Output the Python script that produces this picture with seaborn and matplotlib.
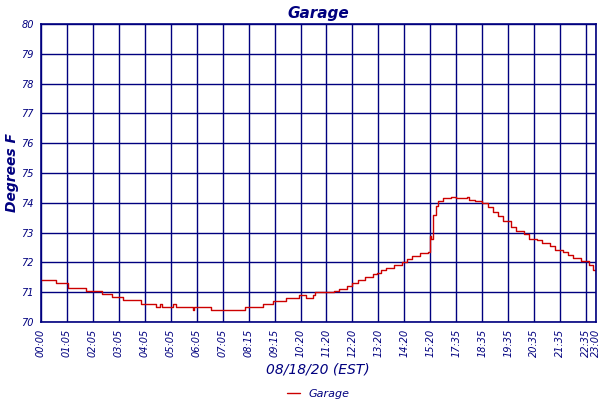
import matplotlib
matplotlib.use("Agg")
import matplotlib.pyplot as plt
import seaborn as sns
import pandas as pd

tick_labels = ["00:00","01:05","02:05","03:05","04:05","05:05","06:05","07:05","08:15","09:15",
               "10:20","11:20","12:20","13:20","14:20","15:20","17:35","18:35","19:35","20:35",
               "21:35","22:35","23:00"]
tick_pos = list(range(22)) + [21.37]
# x in label-interval units, temperatures in degrees F
xs = [0,0.55,0.6,1.0,1.05,1.7,1.75,2.3,2.35,2.7,2.75,3.1,3.15,3.8,3.85,4.4,4.45,4.6,4.65,5.0,5.1,5.2,
      5.8,5.85,5.9,6.5,6.55,6.6,7.8,7.85,8.5,8.55,8.9,8.95,9.4,9.45,9.9,9.95,10.2,10.5,10.55,11.0,
      11.3,11.5,11.8,12.0,12.2,12.5,12.8,12.95,13.1,13.3,13.6,13.9,14.1,14.3,14.6,14.9,14.98,15.02,
      15.1,15.2,15.3,15.5,15.8,16.0,16.4,16.5,16.7,17.0,17.2,17.4,17.6,17.8,18.1,18.3,18.6,18.8,
      19.1,19.3,19.6,19.8,20.1,20.3,20.5,20.8,21.1,21.25,21.37]
ys = [71.4,71.4,71.3,71.3,71.15,71.15,71.05,71.05,70.95,70.95,70.85,70.85,70.75,70.75,70.6,70.6,70.5,70.6,70.5,70.5,70.6,70.5,
      70.5,70.4,70.5,70.5,70.4,70.4,70.4,70.5,70.5,70.6,70.6,70.7,70.7,70.8,70.8,70.9,70.8,70.9,71.0,71.0,
      71.05,71.1,71.2,71.3,71.4,71.5,71.6,71.65,71.75,71.8,71.9,72.0,72.1,72.2,72.3,72.35,72.9,72.8,
      73.6,73.9,74.05,74.15,74.2,74.15,74.2,74.1,74.05,74.0,73.85,73.7,73.55,73.4,73.2,73.05,72.95,72.8,
      72.75,72.65,72.55,72.4,72.35,72.25,72.15,72.05,71.9,71.75,71.6]
ys_fix = ys[:len(xs)]

navy = "#00007f"
sns.set_style("white")
plt.rcParams["font.family"] = ["DejaVu Sans"]
fig = plt.figure(figsize=(6, 4), dpi=100)
ax = fig.add_axes([0.068, 0.195, 0.925, 0.745])
df = pd.DataFrame({"x": xs, "y": ys_fix})
sns.lineplot(data=df, x="x", y="y", ax=ax, color="#cc0000", lw=1.0, drawstyle="steps-post", label="Garage")
ax.set_xlim(0, 21.37)
ax.set_ylim(70, 80)
ax.set_yticks(range(70, 81))
ax.set_yticklabels([str(v) for v in range(70, 81)], fontsize=7, style="italic", color=navy)
ax.set_xticks(tick_pos)
ax.set_xticklabels(tick_labels, rotation=90, fontsize=7, style="italic", color=navy)
ax.grid(True, color=navy, lw=1)
for s in ax.spines.values():
    s.set_color(navy); s.set_linewidth(1.2)
ax.tick_params(length=3, color=navy, pad=2)
ax.set_xlabel("08/18/20 (EST)", fontsize=10, style="italic", color=navy, labelpad=4)
ax.set_ylabel("Degrees F", fontsize=10, style="italic", weight="bold", color=navy, labelpad=2)
ax.set_title("Garage", fontsize=11, style="italic", weight="bold", color=navy, pad=4)
leg = ax.legend(loc="upper center", bbox_to_anchor=(0.5, -0.19), frameon=False,
                handlelength=1.2, prop={"style": "italic", "size": 8})
for t in leg.get_texts():
    t.set_color(navy)
fig.savefig("out.png", dpi=100)
